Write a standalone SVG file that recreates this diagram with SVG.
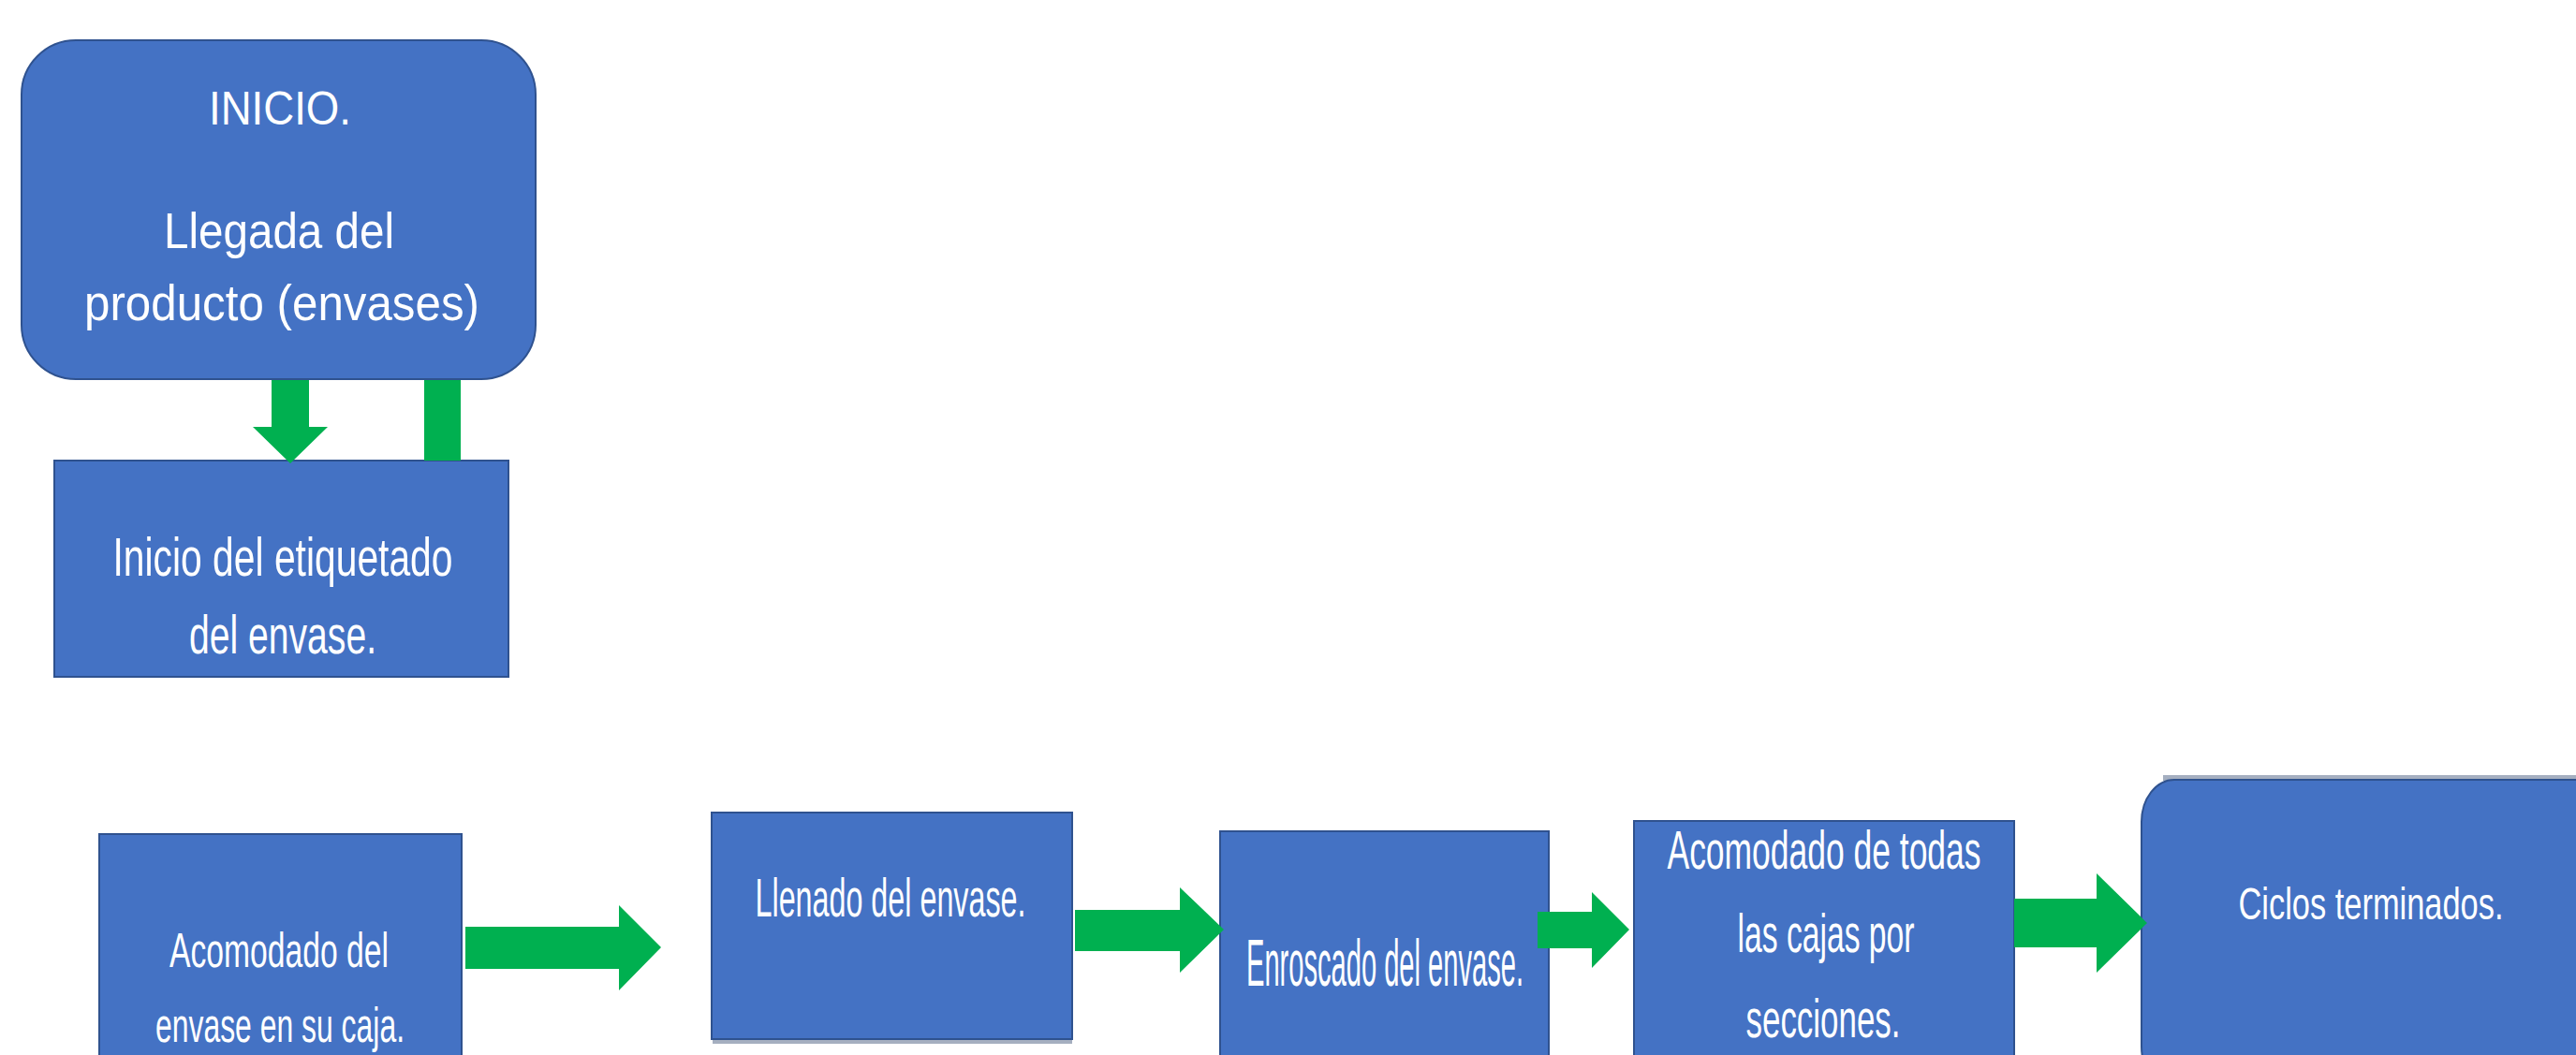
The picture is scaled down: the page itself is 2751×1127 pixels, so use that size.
<svg xmlns="http://www.w3.org/2000/svg" width="2751" height="1127" viewBox="0 0 2751 1127">
<style>
.box{fill:#4472C4;stroke:#2F528F;stroke-width:2}
.t{fill:#FFFFFF;font-family:"Liberation Sans","Noto Sans",sans-serif;text-anchor:middle}
.arr{fill:#00B050}
</style>
<rect width="2751" height="1127" fill="#FFFFFF"/>
<g id="n-inicio">
<rect class="box" x="23" y="43" width="549" height="362" rx="58" ry="58"/>
<text class="t" x="299" y="133" font-size="50" textLength="152" lengthAdjust="spacingAndGlyphs">INICIO.</text>
<text class="t" x="298" y="265" font-size="53" textLength="246" lengthAdjust="spacingAndGlyphs">Llegada del</text>
<text class="t" x="301" y="342" font-size="53" textLength="422" lengthAdjust="spacingAndGlyphs">producto (envases)</text>
</g>
<g id="n-etiquetado">
<rect class="box" x="58" y="492" width="485" height="231"/>
<text class="t" x="302" y="615" font-size="58" textLength="363" lengthAdjust="spacingAndGlyphs">Inicio del etiquetado</text>
<text class="t" x="302" y="698" font-size="58" textLength="200" lengthAdjust="spacingAndGlyphs">del envase.</text>
</g>
<g id="n-acomodado">
<rect class="box" x="106" y="891" width="387" height="260"/>
<text class="t" x="298" y="1033" font-size="52" textLength="234" lengthAdjust="spacingAndGlyphs">Acomodado del</text>
<text class="t" x="299" y="1113" font-size="52" textLength="266" lengthAdjust="spacingAndGlyphs">envase en su caja.</text>
</g>
<g id="n-llenado">
<rect x="761" y="1108" width="384" height="7" fill="#A5AFC0"/>
<rect class="box" x="760" y="868" width="385" height="242"/>
<text class="t" x="951" y="979" font-size="58" textLength="289" lengthAdjust="spacingAndGlyphs">Llenado del envase.</text>
</g>
<g id="n-enroscado">
<rect class="box" x="1303" y="888" width="351" height="260"/>
<text class="t" x="1479" y="1053" font-size="71" textLength="296" lengthAdjust="spacingAndGlyphs">Enroscado del envase.</text>
</g>
<g id="n-cajas">
<rect class="box" x="1745" y="877" width="406" height="270"/>
<text class="t" x="1948" y="928" font-size="57" textLength="335" lengthAdjust="spacingAndGlyphs">Acomodado de todas</text>
<text class="t" x="1950" y="1017" font-size="57" textLength="189" lengthAdjust="spacingAndGlyphs">las cajas por</text>
<text class="t" x="1947" y="1108" font-size="57" textLength="165" lengthAdjust="spacingAndGlyphs">secciones.</text>
</g>
<g id="n-ciclos">
<rect x="2310" y="828" width="470" height="6" fill="#A5AFC0"/>
<rect class="box" x="2287" y="833" width="500" height="330" rx="35" ry="45"/>
<text class="t" x="2532" y="982" font-size="49" textLength="283" lengthAdjust="spacingAndGlyphs">Ciclos terminados.</text>
</g>
<g id="connectors">
<polygon class="arr" points="290,406 330,406 330,456 350,456 310,495 270,456 290,456"/>
<rect class="arr" x="453" y="406" width="39" height="86"/>
<polygon class="arr" points="497,990 661,990 661,967 706,1012 661,1058 661,1035 497,1035"/>
<polygon class="arr" points="1148,972 1260,972 1260,948 1307,993 1260,1039 1260,1016 1148,1016"/>
<polygon class="arr" points="1642,974 1700,974 1700,953 1740,993 1700,1034 1700,1013 1642,1013"/>
<polygon class="arr" points="2151,960 2239,960 2239,933 2293,986 2239,1039 2239,1012 2151,1012"/>
</g>
</svg>
